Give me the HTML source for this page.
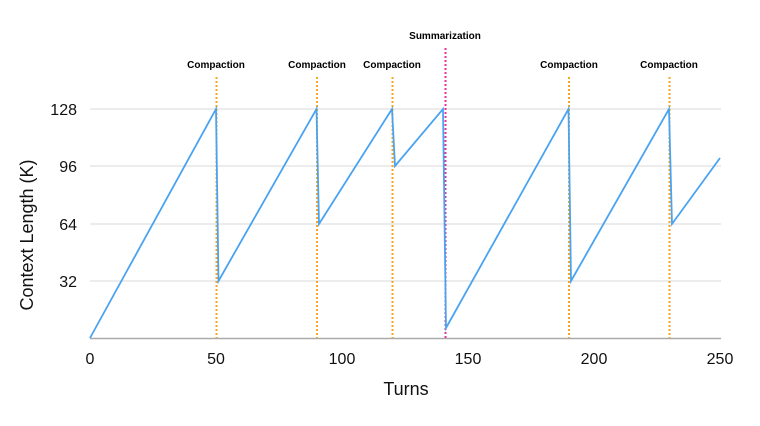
<!DOCTYPE html>
<html><head><meta charset="utf-8"><style>
html,body{margin:0;padding:0;background:#fff;}
svg{display:block;font-family:"Liberation Sans",sans-serif;}
</style></head><body>
<svg width="760" height="426" viewBox="0 0 760 426" xmlns="http://www.w3.org/2000/svg">
<g stroke="#e6e6e6" stroke-width="1.5">
<line x1="90" y1="109" x2="721" y2="109"/>
<line x1="90" y1="166" x2="721" y2="166"/>
<line x1="90" y1="224" x2="721" y2="224"/>
<line x1="90" y1="281" x2="721" y2="281"/>
</g>
<line x1="90" y1="338.5" x2="721" y2="338.5" stroke="#aaa" stroke-width="1.5"/>
<g stroke="#f5a623" stroke-width="2" stroke-dasharray="2,2">
<line x1="216.5" y1="77" x2="216.5" y2="338"/>
<line x1="317" y1="77" x2="317" y2="338"/>
<line x1="392.5" y1="77" x2="392.5" y2="338"/>
<line x1="569" y1="77" x2="569" y2="338"/>
<line x1="669.5" y1="77" x2="669.5" y2="338"/>
</g>
<line x1="445.5" y1="48" x2="445.5" y2="338" stroke="#e6359a" stroke-width="2" stroke-dasharray="2,2"/>
<polyline fill="none" stroke="#4aa3f0" stroke-width="1.8" stroke-linejoin="miter"
points="90,338 216,109 218.5,281 316.5,109 319,224 392,109 395,166 443,109 446,328 568.5,109 571,281 669,109 672,224 720,158"/>
<g font-size="10" font-weight="bold" text-anchor="middle" fill="#000">
<text x="216" y="68">Compaction</text>
<text x="317" y="68">Compaction</text>
<text x="392" y="68">Compaction</text>
<text x="569" y="68">Compaction</text>
<text x="669" y="68">Compaction</text>
<text x="445" y="39">Summarization</text>
</g>
<g font-size="16" text-anchor="end" fill="#111">
<text x="77" y="115">128</text>
<text x="77" y="172">96</text>
<text x="77" y="230">64</text>
<text x="77" y="287">32</text>
</g>
<g font-size="16" text-anchor="middle" fill="#111">
<text x="90" y="364">0</text>
<text x="216" y="364">50</text>
<text x="342" y="364">100</text>
<text x="468" y="364">150</text>
<text x="594" y="364">200</text>
<text x="720" y="364">250</text>
<text x="406" y="395" font-size="18">Turns</text>
<text transform="translate(33,235) rotate(-90)" font-size="18">Context Length (K)</text>
</g>
</svg>
</body></html>
